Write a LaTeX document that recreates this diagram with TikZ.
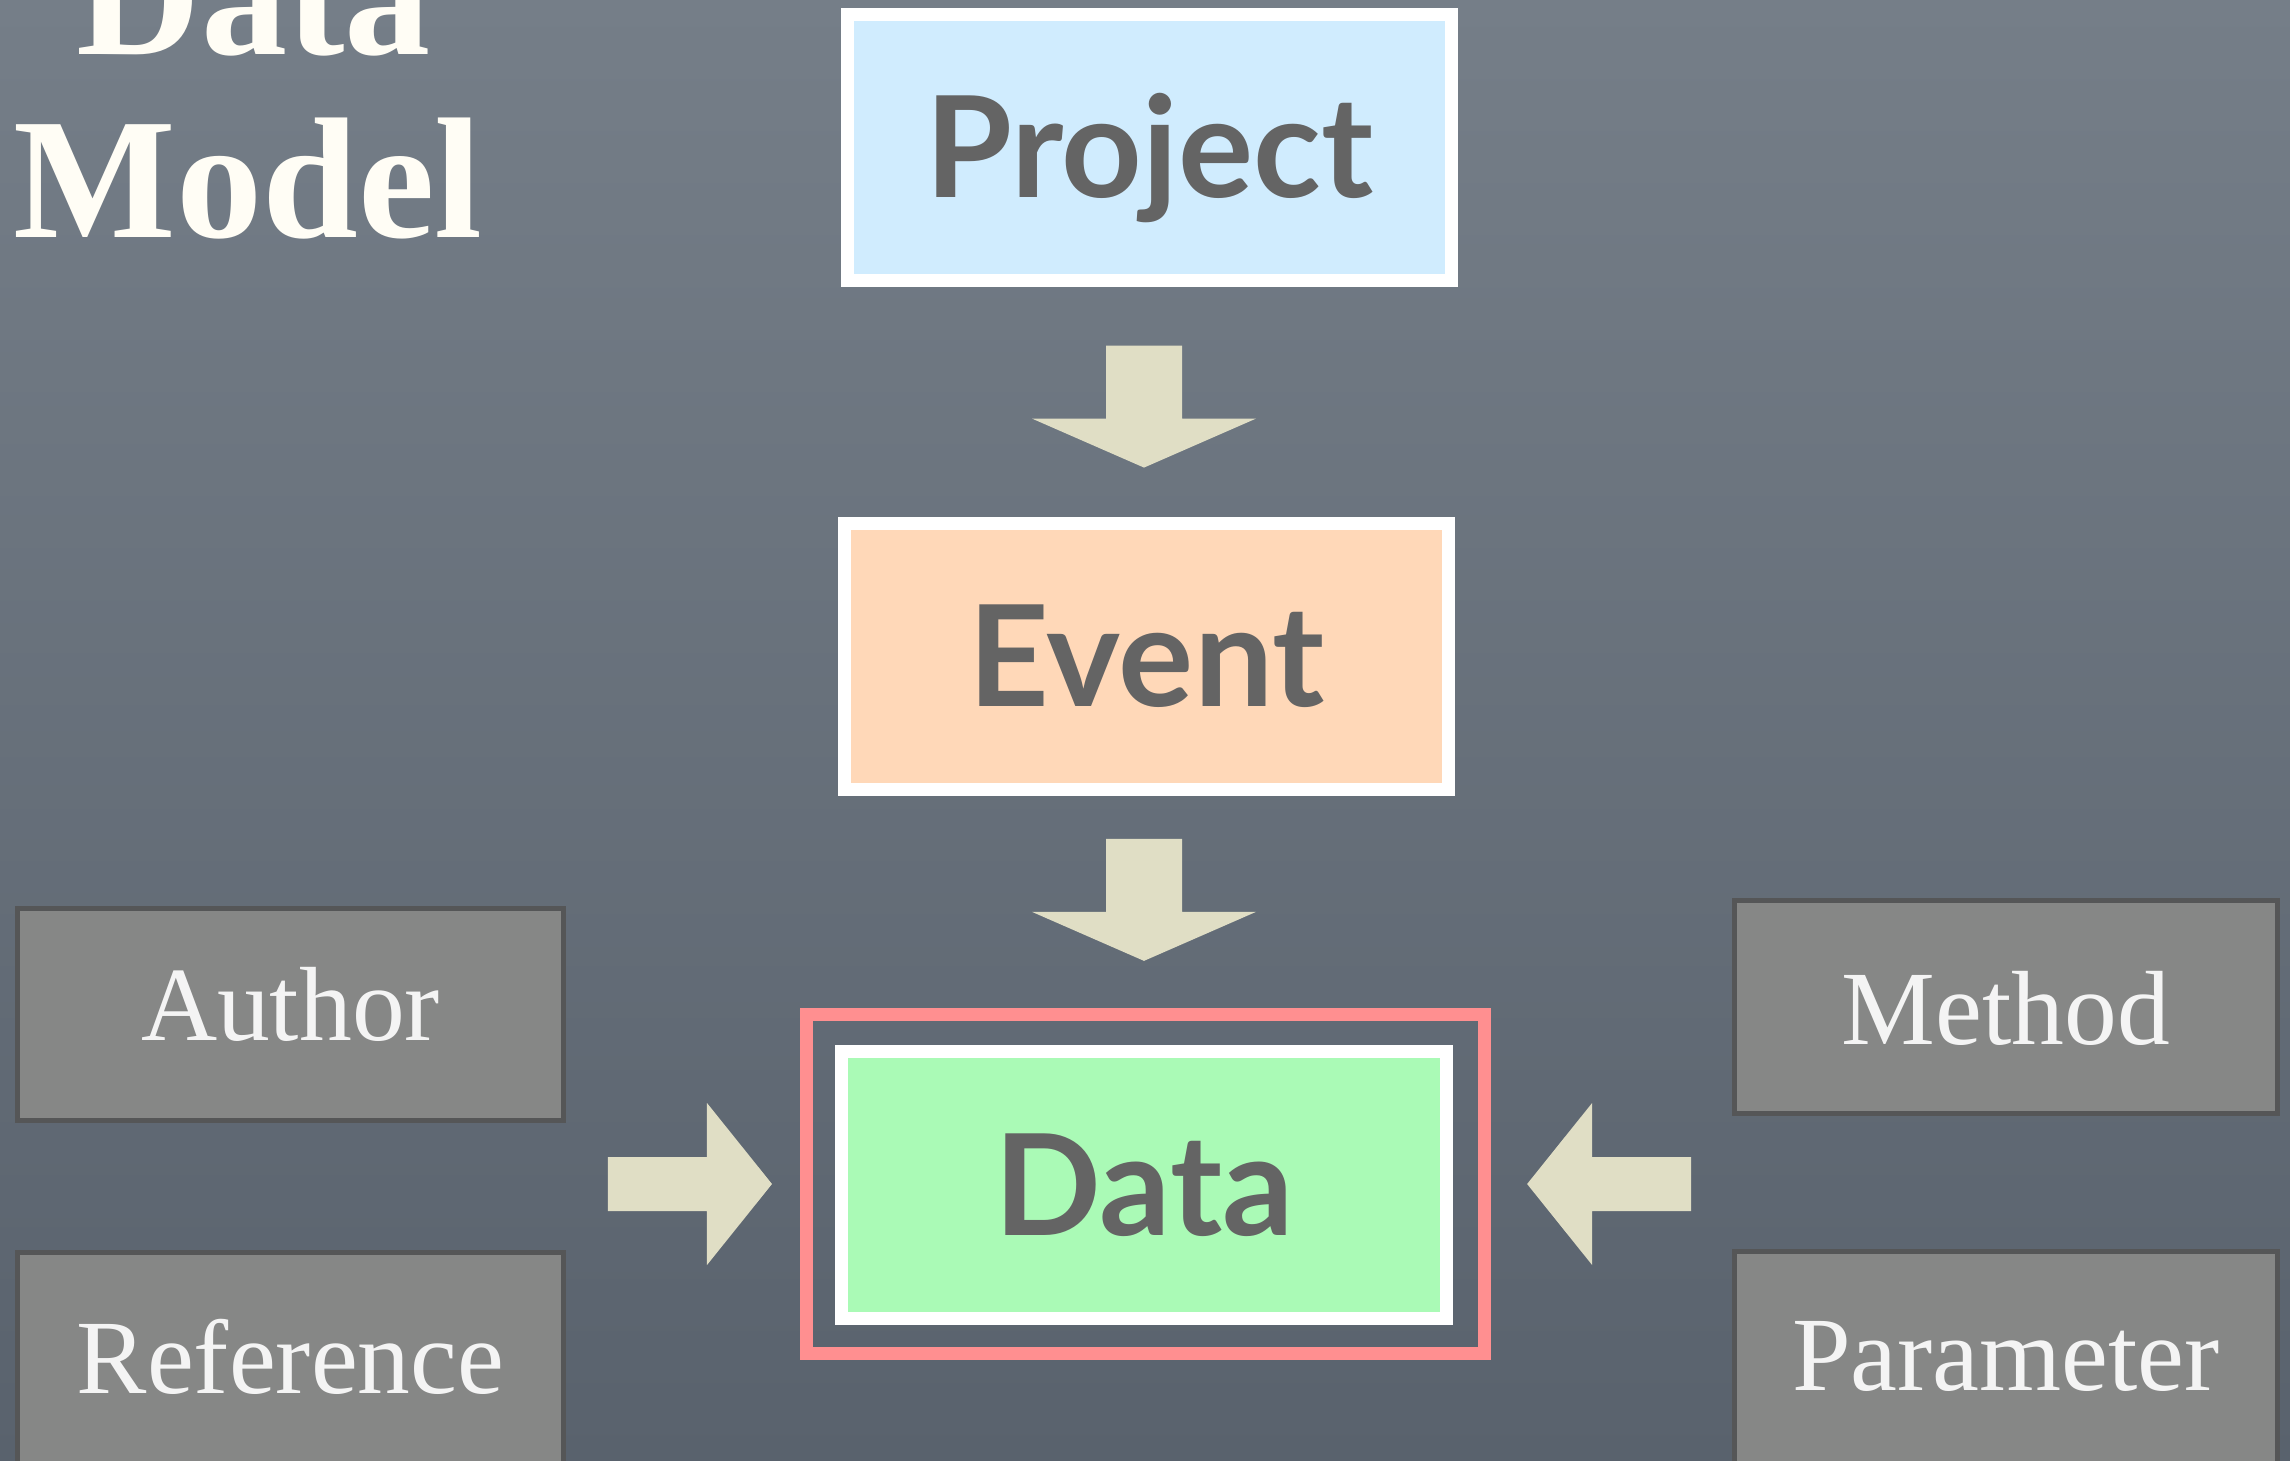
\documentclass[tikz,border=0pt]{standalone}
\usepackage{fontspec}
\newfontfamily\titlefont{Liberation Serif}
\newfontfamily\labelfont{Liberation Serif}
\newfontfamily\handfont{Lato}
\usetikzlibrary{calc}

\definecolor{bgtop}{HTML}{757E88}
\definecolor{bgbottom}{HTML}{59626D}
\definecolor{projectfill}{HTML}{D0ECFE}
\definecolor{eventfill}{HTML}{FFD8B8}
\definecolor{datafill}{HTML}{AAFAB6}
\definecolor{framepink}{HTML}{FF8F90}
\definecolor{arrowbeige}{HTML}{E0DEC5}
\definecolor{auxfill}{HTML}{868786}
\definecolor{auxedge}{HTML}{555657}
\definecolor{labelgray}{HTML}{646464}
\definecolor{auxtext}{HTML}{F4F4F4}
\definecolor{titlecream}{HTML}{FFFDF5}

\begin{document}
\begin{tikzpicture}[x=0.01cm, y=-0.01cm,
  entity/.style={draw=white, line width=0.13cm, minimum width=6.04cm,
    minimum height=2.66cm, inner sep=0pt, text=labelgray,
    text height=1cm, text depth=0cm,
    font=\handfont\bfseries\fontsize{40}{40}\selectfont},
  aux/.style={draw=auxedge, fill=auxfill, line width=0.05cm,
    minimum width=5.46cm, minimum height=2.12cm, inner sep=0pt,
    text=auxtext, text height=#1, text depth=0cm,
    font=\labelfont\fontsize{30}{30}\selectfont},
  titleline/.style={anchor=base, text=titlecream,
    font=\titlefont\bfseries\fontsize{49}{49}\selectfont},
  pics/downblock/.style={code={
    \fill[arrowbeige] (-38,-61) -- (38,-61) -- (38,12) -- (112,12)
      -- (0,61) -- (-112,12) -- (-38,12) -- cycle;}},
  pics/sideblock/.style={code={
    \fill[arrowbeige] (-82,-27) -- (17,-27) -- (17,-81) -- (82,0)
      -- (17,81) -- (17,27) -- (-82,27) -- cycle;}}
]
\useasboundingbox (0,0) rectangle (2290,1461);
\clip (0,0) rectangle (2290,1461);
% slate backdrop, darkening toward the bottom
\shade[top color=bgtop, bottom color=bgbottom] (0,0) rectangle (2290,1461);

% title
\node[titleline] (titleA) at (254,55) {Data};
\node[titleline] (titleB) at (248,238) {Model};

% main chain
\node[entity, fill=projectfill] (project) at (1149.5,147.5) {Project};
\node[entity, fill=eventfill] (event) at (1146.5,656.5) {Event};
\node[draw=framepink, line width=0.13cm, minimum width=6.78cm,
  minimum height=3.39cm, inner sep=0pt] (frame) at (1145.5,1184) {};
\node[entity, fill=datafill, minimum width=6.05cm, minimum height=2.67cm]
  (data) at (1144,1185) {Data};

% side entities
\node[aux=0.51cm] (author) at (290.5,1014.5) {Author};
\node[aux=0.36cm, minimum height=2.45cm] (reference) at (290.5,1375) {Reference};
\node[aux=0.74cm, minimum width=5.43cm, minimum height=2.13cm] (method) at (2006,1007) {Method};
\node[aux=0.31cm, minimum width=5.43cm, minimum height=2.46cm] (parameter) at (2006,1374.5) {Parameter};

% block arrows between the boxes
\coordinate (projectToEvent) at ($(project.south -| data.center)!0.52!(event.north -| data.center)$);
\coordinate (eventToData) at ($(event.south -| data.center)!0.49!(frame.north -| data.center)$);
\coordinate (authorToData) at ($(author.east |- frame.center)!0.53!(frame.west)$);
\coordinate (methodToData) at ($(method.west |- frame.center)!0.51!(frame.east)$);
\pic at (projectToEvent) {downblock};
\pic at (eventToData) {downblock};
\pic at (authorToData) {sideblock};
\pic[xscale=-1] at (methodToData) {sideblock};
\end{tikzpicture}
\end{document}
